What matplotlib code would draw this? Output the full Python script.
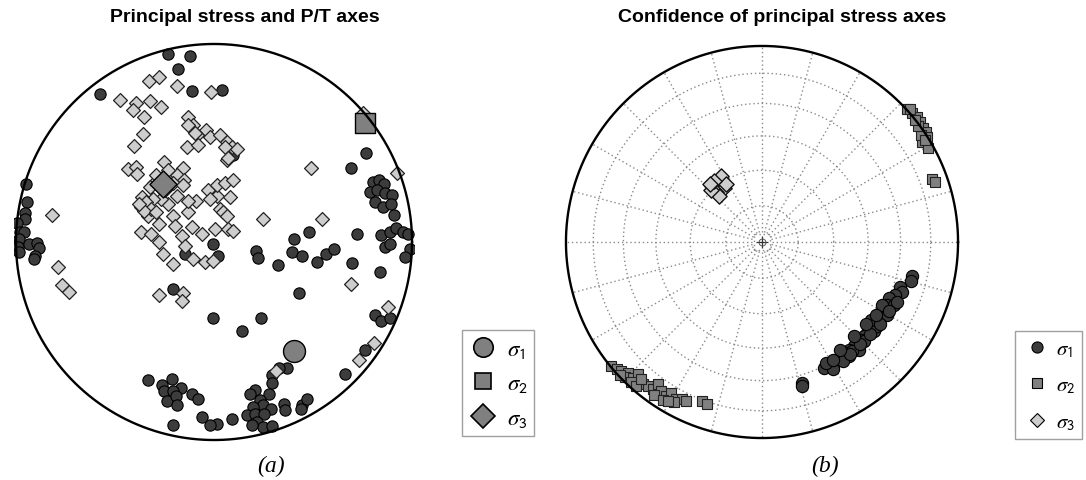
import numpy as np
import matplotlib
matplotlib.use('Agg')
import matplotlib.pyplot as plt
from matplotlib.lines import Line2D

plt.rcParams['mathtext.fontset'] = 'stix'

# ---- (a) principal stress and P/T axes, projected net coordinates (radius = 1)
p_x = [-0.23, -0.12, -0.18, -0.11, 0.04, -0.575, -0.95, -0.945, -0.955, -0.955, -0.995, -0.98,
       -0.96, -0.985, -0.99, -0.935, -0.895, -0.885, -0.905, -0.985, -0.91, 0.095, -0.005, 0.02,
       -0.145, -0.205, 0.21, 0.22, 0.325, 0.405, 0.395, 0.445, 0.52, 0.565, 0.605, 0.48, 0.43,
       -0.005, 0.235, 0.14, 0.695, 0.72, 0.77, 0.69, 0.805, 0.835, 0.86, 0.79, 0.825, 0.865, 0.90,
       0.815, 0.855, 0.895, 0.91, 0.845, 0.89, 0.92, 0.955, 0.98, 0.865, 0.99, 0.965, 0.89, 0.84,
       0.815, 0.845, 0.89, 0.765, 0.66, 0.37, 0.33, 0.295, 0.295, 0.28, 0.205, 0.18, 0.23, 0.245,
       0.195, 0.29, 0.355, 0.36, 0.165, 0.205, 0.255, 0.215, 0.245, 0.295, 0.19, 0.09, 0.015,
       0.445, 0.47, 0.44, -0.02, -0.06, -0.335, -0.265, -0.21, -0.165, -0.25, -0.205, -0.235,
       -0.19, -0.185, -0.11, -0.08, -0.205]
p_y = [0.95, 0.94, 0.875, 0.765, 0.77, 0.745, 0.295, 0.20, 0.145, 0.115, 0.095, 0.05,
       0.05, 0.015, -0.025, -0.01, -0.005, -0.03, -0.07, -0.05, -0.085, 0.44, -0.01, -0.07,
       -0.06, -0.235, -0.045, -0.08, -0.115, 0.015, -0.05, -0.07, -0.10, -0.06, -0.035, 0.05, -0.26,
       -0.385, -0.385, -0.45, -0.105, 0.04, 0.45, 0.375, 0.305, 0.315, 0.295, 0.25, 0.265, 0.245, 0.235,
       0.20, 0.175, 0.19, 0.135, 0.035, 0.05, 0.07, 0.05, 0.04, -0.025, -0.035, -0.075, -0.01, -0.15,
       -0.37, -0.40, -0.385, -0.545, -0.665, -0.635, -0.635, -0.67, -0.71, -0.77, -0.745, -0.77, -0.80, -0.825,
       -0.835, -0.845, -0.82, -0.85, -0.875, -0.87, -0.87, -0.91, -0.935, -0.93, -0.925, -0.895, -0.92,
       -0.825, -0.795, -0.845, -0.925, -0.885, -0.695, -0.72, -0.69, -0.735, -0.75, -0.75, -0.805,
       -0.78, -0.825, -0.77, -0.795, -0.925]

t_x = [-0.33, -0.28, -0.185, -0.015, -0.475, -0.395, -0.325, -0.27, -0.41, -0.355, -0.13, -0.105,
       -0.04, -0.085, -0.02, -0.135, -0.08, -0.36, -0.405, -0.255, -0.435, -0.395, -0.39, -0.82,
       -0.155, -0.185, -0.15, -0.305, -0.325, -0.205, -0.155, -0.185, -0.23, -0.27, -0.31, -0.37,
       -0.335, -0.37, -0.32, -0.28, -0.28, -0.26, -0.205, -0.195, -0.13, -0.09, -0.13, -0.11, -0.16,
       -0.145, -0.06, -0.105, -0.205, -0.045, -0.005, -0.03, 0.015, 0.015, 0.055, 0.095, -0.02, 0.03,
       0.08, 0.045, 0.065, 0.005, 0.07, 0.095, 0.245, -0.28, -0.155, -0.16, -0.13, -0.095, 0.03,
       0.065, 0.09, 0.115, 0.065, 0.055, 0.07, 0.49, 0.925, 0.545, 0.75, -0.79, -0.77, -0.73,
       0.69, 0.88, 0.81, 0.73, 0.315, -0.365, -0.345, -0.32, -0.355, -0.295, -0.38, -0.245,
       -0.295, -0.23]
t_y = [0.815, 0.835, 0.79, 0.755, 0.715, 0.70, 0.71, 0.68, 0.665, 0.63, 0.63, 0.59,
       0.565, 0.54, 0.53, 0.48, 0.49, 0.545, 0.485, 0.405, 0.37, 0.38, 0.345, 0.135,
       0.375, 0.34, 0.315, 0.30, 0.28, 0.30, 0.29, 0.23, 0.19, 0.215, 0.215, 0.175,
       0.13, 0.05, 0.04, 0.09, 0.0, -0.06, 0.13, 0.08, 0.15, 0.205, 0.205, 0.075, 0.03,
       -0.02, 0.04, -0.085, -0.11, -0.10, -0.095, 0.265, 0.23, 0.29, 0.30, 0.315, 0.215, 0.165,
       0.225, 0.15, 0.13, 0.065, 0.065, 0.055, 0.115, -0.27, -0.26, -0.30, 0.59, 0.55, 0.54,
       0.505, 0.48, 0.47, 0.415, 0.48, 0.425, 0.375, 0.35, 0.115, 0.65, -0.125, -0.215, -0.25,
       -0.21, -0.33, -0.51, -0.595, -0.65, 0.225, 0.20, 0.165, 0.155, 0.15, 0.19, 0.265,
       0.34, 0.365]

# best stress axes (a): sigma1, sigma2, sigma3
best_x = [0.405, 0.765, -0.26]
best_y = [-0.55, 0.60, 0.295]

# ---- (b) confidence of principal stress axes
s1_x = [0.764, 0.761, 0.705, 0.714, 0.680, 0.663, 0.646, 0.638, 0.621, 0.604, 0.596, 0.579, 0.562,
        0.545, 0.537, 0.520, 0.503, 0.487, 0.470, 0.444, 0.428, 0.411, 0.394, 0.369, 0.343, 0.318,
        0.360, 0.327, 0.444, 0.495, 0.571, 0.638, 0.672, 0.588, 0.520, 0.461, 0.554, 0.613, 0.411,
        0.689, 0.205, 0.205, 0.60, 0.55, 0.50, 0.45, 0.65, 0.58, 0.53, 0.47, 0.40, 0.36]
s1_y = [-0.173, -0.200, -0.229, -0.254, -0.271, -0.305, -0.288, -0.322, -0.347, -0.364, -0.389, -0.406,
        -0.423, -0.439, -0.465, -0.481, -0.498, -0.515, -0.532, -0.549, -0.566, -0.582, -0.599, -0.616,
        -0.625, -0.641, -0.650, -0.616, -0.582, -0.549, -0.456, -0.372, -0.322, -0.431, -0.507, -0.557,
        -0.397, -0.322, -0.608, -0.305, -0.717, -0.734, -0.42, -0.47, -0.52, -0.57, -0.35, -0.37,
        -0.42, -0.48, -0.55, -0.60]
s2_x = [0.739, 0.764, 0.790, 0.806, 0.823, 0.835, 0.842, 0.818, 0.848, 0.811, 0.798, 0.778, 0.832,
        0.756, 0.865, 0.882, -0.768, -0.742, -0.717, -0.684, -0.700, -0.658, -0.633, -0.608, -0.582,
        -0.557, -0.532, -0.515, -0.490, -0.465, -0.439, -0.406, -0.389, -0.448, -0.305, -0.279,
        -0.667, -0.641, -0.549, -0.507, -0.478, -0.616, -0.726]
s2_y = [0.680, 0.658, 0.638, 0.613, 0.584, 0.562, 0.537, 0.512, 0.478, 0.545, 0.591, 0.621, 0.520,
        0.680, 0.322, 0.305, -0.633, -0.650, -0.658, -0.667, -0.689, -0.692, -0.675, -0.726, -0.734,
        -0.751, -0.726, -0.759, -0.785, -0.768, -0.801, -0.801, -0.810, -0.818, -0.810, -0.827,
        -0.712, -0.734, -0.779, -0.806, -0.813, -0.700, -0.678]
s3_x = [-0.254, -0.229, -0.204, -0.209, -0.192, -0.237, -0.219, -0.259, -0.184, -0.246, -0.266]
s3_y = [0.285, 0.293, 0.310, 0.338, 0.276, 0.254, 0.237, 0.264, 0.298, 0.310, 0.298]

# net grid: small-circle rings (degrees from centre) and radial lines every 15 deg
ring_angles = [15, 30, 45, 60, 75]
spoke_azimuths = np.arange(0, 360, 15)

labels = [r'$\sigma_{\mathsf{1}}$', r'$\sigma_{\mathsf{2}}$', r'$\sigma_{\mathsf{3}}$']

W, H = 1086, 481
fig = plt.figure(figsize=(W / 100, H / 100), dpi=100)

DARK, MID, LIGHT = '#3c3c3c', '#808080', '#cdcdcd'
GRID = dict(color='#8a8a8a', lw=1.0, ls=(0, (1, 2)), zorder=1)


def make_net(cx, cy, r):
    ax = fig.add_axes([(cx - r) / W, (H - cy - r) / H, 2 * r / W, 2 * r / H])
    ax.set_xlim(-1.01, 1.01)
    ax.set_ylim(-1.01, 1.01)
    ax.set_aspect('equal')
    ax.axis('off')
    th = np.linspace(0, 2 * np.pi, 400)
    ax.plot(np.cos(th), np.sin(th), color='black', lw=1.7, zorder=5)
    return ax


# ---------- (a)
ax1 = make_net(214, 243, 200)
ax1.scatter(p_x, p_y, s=66, marker='o', c=DARK, edgecolors='black', linewidths=0.8, zorder=2)
ax1.scatter(t_x, t_y, s=50, marker='D', c=LIGHT, edgecolors='#222222', linewidths=0.9, zorder=3)
ax1.scatter(best_x[0], best_y[0], s=250, marker='o', c=MID, edgecolors='black', linewidths=1.0, zorder=4)
ax1.scatter(best_x[1], best_y[1], s=210, marker='s', c=MID, edgecolors='black', linewidths=1.0, zorder=4)
ax1.scatter(best_x[2], best_y[2], s=190, marker='D', c=MID, edgecolors='black', linewidths=1.0, zorder=4)

fig.text(245 / W, 1 - 17 / H, 'Principal stress and P/T axes', ha='center', va='center',
         fontsize=14, fontweight='bold', family='Liberation Sans')
fig.text(271 / W, 1 - 466 / H, '(a)', ha='center', va='center', fontsize=17,
         style='italic', family='Liberation Serif')

h1 = [Line2D([], [], ls='none', marker='o', ms=14, mfc=MID, mec='black', mew=1.2),
      Line2D([], [], ls='none', marker='s', ms=12, mfc=MID, mec='black', mew=1.2),
      Line2D([], [], ls='none', marker='D', ms=12, mfc=MID, mec='black', mew=1.2)]
leg1 = fig.legend(h1, labels, loc='upper left', bbox_to_anchor=(462 / W, 1 - 331 / H),
                  fontsize=16.5, frameon=True, fancybox=False, edgecolor='#888888',
                  handlelength=1.2, handletextpad=0.45, labelspacing=0.5, borderpad=0.3,
                  borderaxespad=0)
leg1.get_frame().set_linewidth(1.0)

# ---------- (b)
ax2 = make_net(762, 243, 198)
for a in ring_angles:
    rr = np.sqrt(2) * np.sin(np.radians(a) / 2)
    th = np.linspace(0, 2 * np.pi, 300)
    ax2.plot(rr * np.cos(th), rr * np.sin(th), **GRID)
for az in spoke_azimuths:
    t = np.radians(az)
    ax2.plot([0.05 * np.sin(t), np.sin(t)], [0.05 * np.cos(t), np.cos(t)], **GRID)
ax2.plot([-0.04, 0.04, 0.04, -0.04, -0.04], [-0.04, -0.04, 0.04, 0.04, -0.04], **GRID)
ax2.plot(0, 0, marker='+', ms=9, color='#333333', mew=0.9, zorder=2)
ax2.plot(0, 0, marker='o', ms=5, mfc='none', mec='#555555', mew=0.7, zorder=2)

ax2.scatter(s1_x, s1_y, s=78, marker='o', c=DARK, edgecolors='black', linewidths=0.8, zorder=3)
ax2.scatter(s2_x, s2_y, s=60, marker='s', c=MID, edgecolors='#222222', linewidths=0.8, zorder=3)
ax2.scatter(s3_x, s3_y, s=60, marker='D', c=LIGHT, edgecolors='#111111', linewidths=1.0, zorder=4)

fig.text(782 / W, 1 - 17 / H, 'Confidence of principal stress axes', ha='center', va='center',
         fontsize=14, fontweight='bold', family='Liberation Sans')
fig.text(825 / W, 1 - 466 / H, '(b)', ha='center', va='center', fontsize=17,
         style='italic', family='Liberation Serif')

h2 = [Line2D([], [], ls='none', marker='o', ms=8, mfc=DARK, mec='black', mew=0.8),
      Line2D([], [], ls='none', marker='s', ms=7, mfc=MID, mec='black', mew=0.8),
      Line2D([], [], ls='none', marker='D', ms=7, mfc=LIGHT, mec='black', mew=0.8)]
leg2 = fig.legend(h2, labels, loc='upper left', bbox_to_anchor=(1015 / W, 1 - 332 / H),
                  fontsize=15, frameon=True, fancybox=False, edgecolor='#888888',
                  handlelength=1.4, handletextpad=0.2, labelspacing=0.75, borderpad=0.35,
                  borderaxespad=0)
leg2.get_frame().set_linewidth(1.0)

fig.savefig('out.png', dpi=100, facecolor='white')
